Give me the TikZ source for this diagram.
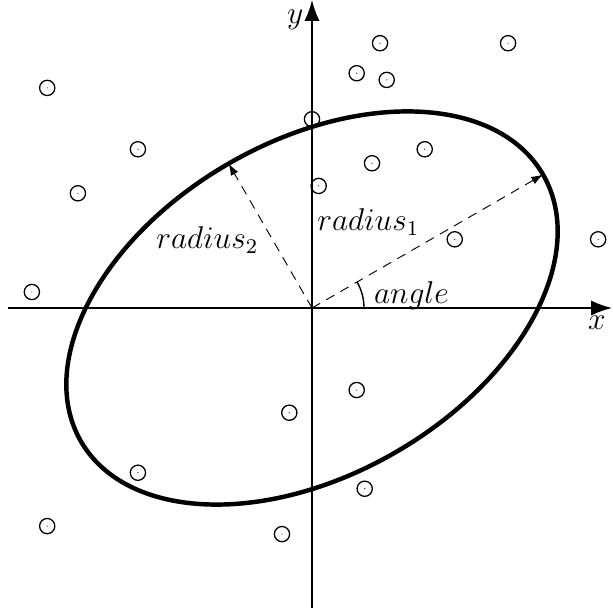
\documentclass[tikz,border=0pt]{standalone}
\usepackage{tikz}
\usetikzlibrary{arrows.meta}

\begin{document}
\begin{tikzpicture}[font=\large,lab/.style={scale=1.12},axis/.style={-{Latex[length=9pt,width=6.5pt]},line width=0.85pt},rad/.style={dash pattern=on 4pt off 3pt,-{Latex[length=5pt,width=3.5pt]},line width=0.4pt},pt/.style={circle,draw,line width=0.55pt,minimum size=6.5pt,inner sep=0pt,path picture={\fill (path picture bounding box.center) circle (0.25pt);}}]
\useasboundingbox (-4.678,-4.573) rectangle (4.498,4.618);
\coordinate (O) at (0,0);
\coordinate (xl) at (-4.56,0); \coordinate (xr) at (4.5,0);
\coordinate (yb) at (0,-4.5); \coordinate (yt) at (0,4.62);
\coordinate (R1) at (30:4); \coordinate (R2) at (120:2.5);
\draw[axis] (xl)--(xr); \draw[axis] (yb)--(yt);
\node[lab] (xlab) at (4.27,-0.22) {$x$};
\node[lab] (ylab) at (-0.25,4.32) {$y$};
\draw[line width=1.9pt,rotate=30] (O) ellipse (4 and 2.5);
\draw[rad] (O)--(R1); \draw[rad] (O)--(R2);
\draw[line width=0.6pt] (0.78,0) arc (0:30:0.78);
\node[lab,anchor=west] (r1) at (-0.06,1.29) {$radius_1$};
\node[lab] (r2) at (-1.57,1.02) {$radius_2$};
\node[lab] (ang) at (1.49,0.19) {$angle$};
\foreach \i/\p in {1/{1.02,3.97},2/{2.94,3.97},3/{0.67,3.52},4/{1.12,3.42},5/{-3.97,3.30},6/{0,2.83},7/{-2.61,2.38},8/{1.69,2.38},9/{0.90,2.17},10/{-3.51,1.72},11/{0.10,1.83},12/{2.14,1.03},13/{4.29,1.03},14/{-4.20,0.24},15/{0.67,-1.23},16/{-0.34,-1.57},17/{-2.61,-2.47},18/{0.79,-2.71},19/{-3.97,-3.27},20/{-0.45,-3.39}}
  \node[pt] (p\i) at (\p) {};
\end{tikzpicture}
\end{document}
